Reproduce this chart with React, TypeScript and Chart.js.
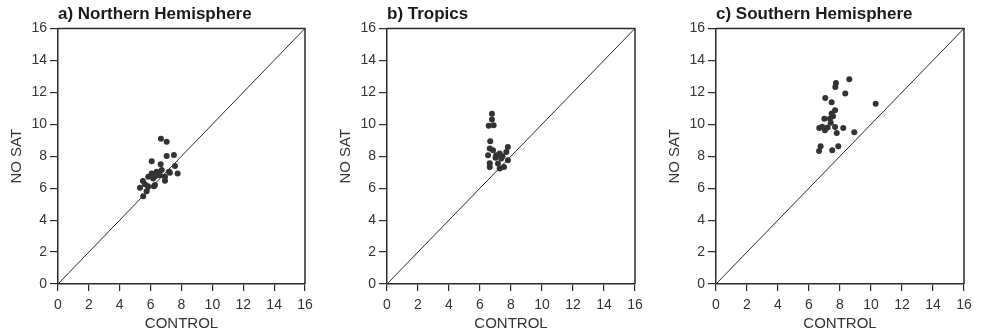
import React, { useEffect, useRef } from "react";
import { Chart, registerables } from "chart.js";

Chart.register(...registerables);

// Axis ticks (0..16 step 2) and the 1:1 reference line
const AXIS_MIN = 0;
const AXIS_MAX = 16;
const AXIS_STEP = 2;
const DIAG = [0, 16];

const TITLES = ["a) Northern Hemisphere", "b) Tropics", "c) Southern Hemisphere"];
const X_LABEL = "CONTROL";
const Y_LABEL = "NO SAT";

// a) Northern Hemisphere
const NH_CONTROL = [6.67, 7.04, 7.04, 7.51, 6.07, 6.65, 7.58, 7.19, 7.75, 5.5, 5.31, 5.83, 6.22, 5.74, 5.52, 6.93, 6.07, 6.39, 6.6, 6.17, 6.72, 6.93, 7.25, 5.85, 5.63, 6.28, 6.45, 6.3];
const NH_NOSAT = [9.1, 8.9, 8.02, 8.08, 7.69, 7.5, 7.38, 7.02, 6.92, 6.44, 6.02, 6.12, 6.12, 5.81, 5.5, 6.46, 6.92, 7.02, 6.81, 6.6, 7.13, 6.71, 6.96, 6.71, 6.25, 6.19, 6.9, 6.75];

// b) Tropics
const TR_CONTROL = [6.77, 6.77, 6.56, 6.88, 6.66, 6.63, 6.84, 6.52, 7.05, 7.27, 7.8, 7.7, 7.37, 7.16, 7.55, 6.63, 6.63, 7.27, 7.8, 7.0, 7.45];
const TR_NOSAT = [10.65, 10.3, 9.9, 9.94, 8.94, 8.48, 8.38, 8.06, 8.06, 8.17, 8.58, 8.27, 7.86, 7.54, 7.33, 7.56, 7.33, 7.23, 7.75, 7.9, 8.0];

// c) Southern Hemisphere
const SH_CONTROL = [8.6, 7.74, 7.7, 8.34, 10.3, 7.05, 7.46, 7.68, 7.46, 7.35, 6.99, 6.66, 7.03, 7.68, 8.21, 7.79, 8.92, 6.75, 6.65, 7.5, 7.89, 7.2, 7.55, 6.85, 7.4];
const SH_NOSAT = [12.81, 12.58, 12.33, 11.92, 11.29, 11.65, 11.38, 10.88, 10.67, 10.35, 10.35, 9.77, 9.63, 9.83, 9.77, 9.46, 9.5, 8.63, 8.33, 8.38, 8.63, 9.8, 10.5, 9.85, 10.1];

const FONT = "'Liberation Sans', Arial, Helvetica, sans-serif";
const INK = "#2a2a2a";

const framePlugin = {
  id: "frame",
  afterDatasetsDraw(chart: any) {
    const { ctx, chartArea } = chart;
    ctx.save();
    ctx.strokeStyle = INK;
    ctx.lineWidth = 1.5;
    ctx.beginPath();
    ctx.moveTo(chartArea.left, chartArea.top);
    ctx.lineTo(chartArea.right, chartArea.top);
    ctx.lineTo(chartArea.right, chartArea.bottom);
    ctx.stroke();
    ctx.restore();
  },
};

function Panel(props: { title: string; xs: number[]; ys: number[]; left: number; padRight: number }) {
  const ref = useRef<HTMLCanvasElement | null>(null);
  useEffect(() => {
    if (!ref.current) return;
    const pts = props.xs.map((x, i) => ({ x, y: props.ys[i] }));
    const diag = DIAG.map((v) => ({ x: v, y: v }));
    const chart = new Chart(ref.current, {
      type: "scatter",
      data: {
        datasets: [
          {
            type: "line",
            data: diag,
            borderColor: INK,
            borderWidth: 1,
            pointRadius: 0,
            fill: false,
          } as any,
          {
            data: pts,
            backgroundColor: "#333",
            borderColor: "#333",
            borderWidth: 0,
            pointRadius: 3,
          },
        ],
      },
      options: {
        animation: false,
        responsive: false,
        layout: { padding: { left: 0, right: props.padRight, top: 0, bottom: 0 } },
        plugins: {
          legend: { display: false },
          tooltip: { enabled: false },
          title: {
            display: true,
            text: props.title,
            align: "start",
            fullSize: false,
            color: "#1a1a1a",
            font: { family: FONT, size: 17, weight: "bold" },
            padding: { top: 4, bottom: 4 },
          },
        },
        scales: {
          x: {
            type: "linear",
            min: AXIS_MIN,
            max: AXIS_MAX,
            ticks: { stepSize: AXIS_STEP, color: "#333", font: { family: FONT, size: 14 }, padding: 6, maxRotation: 0 },
            grid: { drawOnChartArea: false, drawTicks: true, tickLength: 7, color: INK, lineWidth: 1.2 },
            border: { display: true, color: INK, width: 1.5 },
            title: { display: true, text: X_LABEL, color: "#333", font: { family: FONT, size: 15 }, padding: { top: 4, bottom: 2 } },
            afterFit: (s: any) => {
              s.height = 51;
            },
          },
          y: {
            type: "linear",
            min: AXIS_MIN,
            max: AXIS_MAX,
            ticks: { stepSize: AXIS_STEP, color: "#333", font: { family: FONT, size: 14 }, padding: 3 },
            grid: { drawOnChartArea: false, drawTicks: true, tickLength: 8, color: INK, lineWidth: 1.2 },
            border: { display: true, color: INK, width: 1.5 },
            title: { display: true, text: Y_LABEL, color: "#333", font: { family: FONT, size: 15 }, padding: { top: 8, bottom: 4 } },
            afterFit: (s: any) => {
              s.width = 58;
            },
          },
        },
      } as any,
      plugins: [framePlugin],
    });
    return () => chart.destroy();
  }, []);
  return (
    <div style={{ position: "absolute", left: props.left, top: 0, width: 322, height: 335 }}>
      <canvas ref={ref} width={322} height={335} />
    </div>
  );
}

export default function App() {
  return (
    <div style={{ position: "fixed", left: 0, top: 0, width: 982, height: 335, background: "#fff", overflow: "hidden" }}>
      <Panel title={TITLES[0]} xs={NH_CONTROL} ys={NH_NOSAT} left={0} padRight={17} />
      <Panel title={TITLES[1]} xs={TR_CONTROL} ys={TR_NOSAT} left={329} padRight={16} />
      <Panel title={TITLES[2]} xs={SH_CONTROL} ys={SH_NOSAT} left={658} padRight={16} />
    </div>
  );
}
